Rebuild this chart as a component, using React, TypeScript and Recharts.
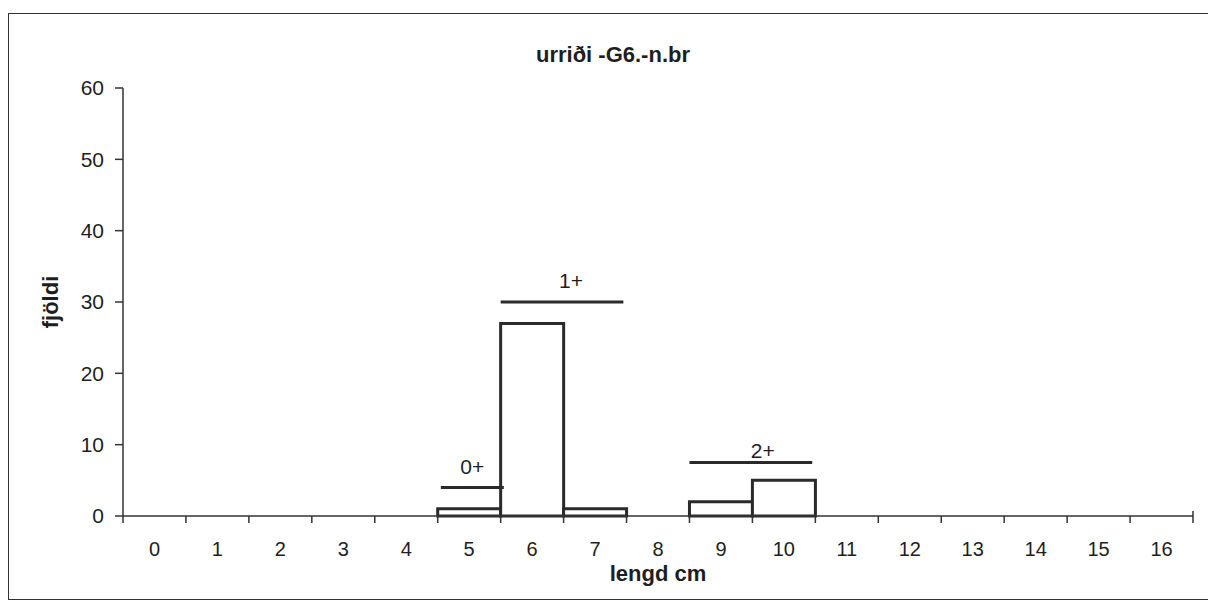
import { BarChart, Bar, XAxis, YAxis, ReferenceLine } from 'recharts';

// length classes (cm) and number of fish in each
const lengths = ['0', '1', '2', '3', '4', '5', '6', '7', '8', '9', '10', '11', '12', '13', '14', '15', '16'];
const counts = [0, 0, 0, 0, 0, 1, 27, 1, 0, 2, 5, 0, 0, 0, 0, 0, 0];
const yTicks = [0, 10, 20, 30, 40, 50, 60];

// age group bars drawn over the histogram (x in length-class units)
const ageGroups = [
  { label: '0+', from: 4.55, to: 5.55, level: 4 },
  { label: '1+', from: 5.5, to: 7.45, level: 30 },
  { label: '2+', from: 8.5, to: 10.45, level: 7.5 },
];

const FONT = 'Arial, "Liberation Sans", Helvetica, sans-serif';
const INK = '#1e1e1e';
const PLOT_W = 1070;
const HALF_BAND = PLOT_W / lengths.length / 2;

const data = lengths.map((length, i) => ({ length, pos: i, count: counts[i] }));

function LengthTick(props: any) {
  const { x, y, payload, index } = props;
  const half = typeof payload?.offset === 'number' && payload.offset > 0 ? payload.offset : HALF_BAND;
  return (
    <g>
      <line x1={x - half} x2={x - half} y1={y} y2={y + 7} stroke="#333" strokeWidth={1.5} />
      {index === lengths.length - 1 && (
        <line x1={x + half} x2={x + half} y1={y - 5} y2={y + 7} stroke="#333" strokeWidth={1.5} />
      )}
      <text x={x} y={y + 40} textAnchor="middle" fontSize={20} fill={INK} fontFamily={FONT}>
        {payload.value}
      </text>
    </g>
  );
}

function CountLabel({ viewBox }: any) {
  const cx = viewBox.x + 50;
  const cy = viewBox.y + viewBox.height / 2;
  return (
    <text
      x={cx}
      y={cy}
      transform={`rotate(-90 ${cx} ${cy})`}
      textAnchor="middle"
      dominantBaseline="central"
      fontSize={22}
      fontWeight="bold"
      fill={INK}
      fontFamily={FONT}
    >
      fjöldi
    </text>
  );
}

const labelShift: Record<string, { dx: number; offset: number }> = {
  '0+': { dx: 0, offset: 13 },
  '1+': { dx: 9, offset: 14 },
  '2+': { dx: 12, offset: 5 },
};

export default function App() {
  return (
    <div style={{ position: 'relative', width: 1208, height: 602, overflow: 'hidden', background: '#fff' }}>
      <style>{'body{margin:0}'}</style>
      <div
        style={{
          position: 'absolute',
          left: 8,
          top: 13,
          width: 1300,
          height: 585,
          border: '1.5px solid #333',
        }}
      />
      <div
        style={{
          position: 'absolute',
          left: 613,
          top: 44,
          transform: 'translateX(-50%)',
          fontFamily: FONT,
          fontSize: 22,
          fontWeight: 'bold',
          lineHeight: '22px',
          color: INK,
          whiteSpace: 'nowrap',
        }}
      >
        urriði -G6.-n.br
      </div>
      <div style={{ position: 'absolute', left: 0, top: 0 }}>
        <BarChart
          width={1208}
          height={602}
          data={data}
          margin={{ top: 88, right: 15, bottom: 0, left: 0 }}
          barCategoryGap={0}
          barGap={0}
        >
          <XAxis
            dataKey="length"
            interval={0}
            tickLine={false}
            tickSize={0}
            tickMargin={0}
            height={86}
            axisLine={{ stroke: '#333', strokeWidth: 1.5 }}
            tick={(p: any) => <LengthTick {...p} />}
            label={{
              value: 'lengd cm',
              position: 'insideBottom',
              offset: 21,
              fontSize: 22,
              fontWeight: 'bold',
              fill: INK,
              fontFamily: FONT,
            }}
          />
          <XAxis
            xAxisId="num"
            dataKey="pos"
            type="number"
            domain={[0, lengths.length - 1]}
            padding={{ left: HALF_BAND, right: HALF_BAND }}
            allowDataOverflow
            hide
          />
          <YAxis
            width={123}
            domain={[0, 60]}
            ticks={yTicks}
            interval={0}
            tickSize={8}
            tickMargin={11}
            axisLine={{ stroke: '#333', strokeWidth: 1.5 }}
            tickLine={{ stroke: '#333', strokeWidth: 1.5 }}
            tick={{ fontSize: 21, fill: INK, fontFamily: FONT }}
            label={{ content: (p: any) => <CountLabel {...p} /> }}
          />
          <Bar dataKey="count" fill="#fff" stroke="#2a2a2a" strokeWidth={3} isAnimationActive={false} />
          {ageGroups.map((g) => (
            <ReferenceLine
              key={g.label}
              xAxisId="num"
              segment={[
                { x: g.from, y: g.level },
                { x: g.to, y: g.level },
              ]}
              stroke="#2a2a2a"
              strokeWidth={3}
              ifOverflow="visible"
              label={{
                value: g.label,
                position: 'top',
                offset: labelShift[g.label].offset,
                dx: labelShift[g.label].dx,
                fontSize: 21,
                fill: INK,
                fontFamily: FONT,
              }}
            />
          ))}
        </BarChart>
      </div>
    </div>
  );
}
